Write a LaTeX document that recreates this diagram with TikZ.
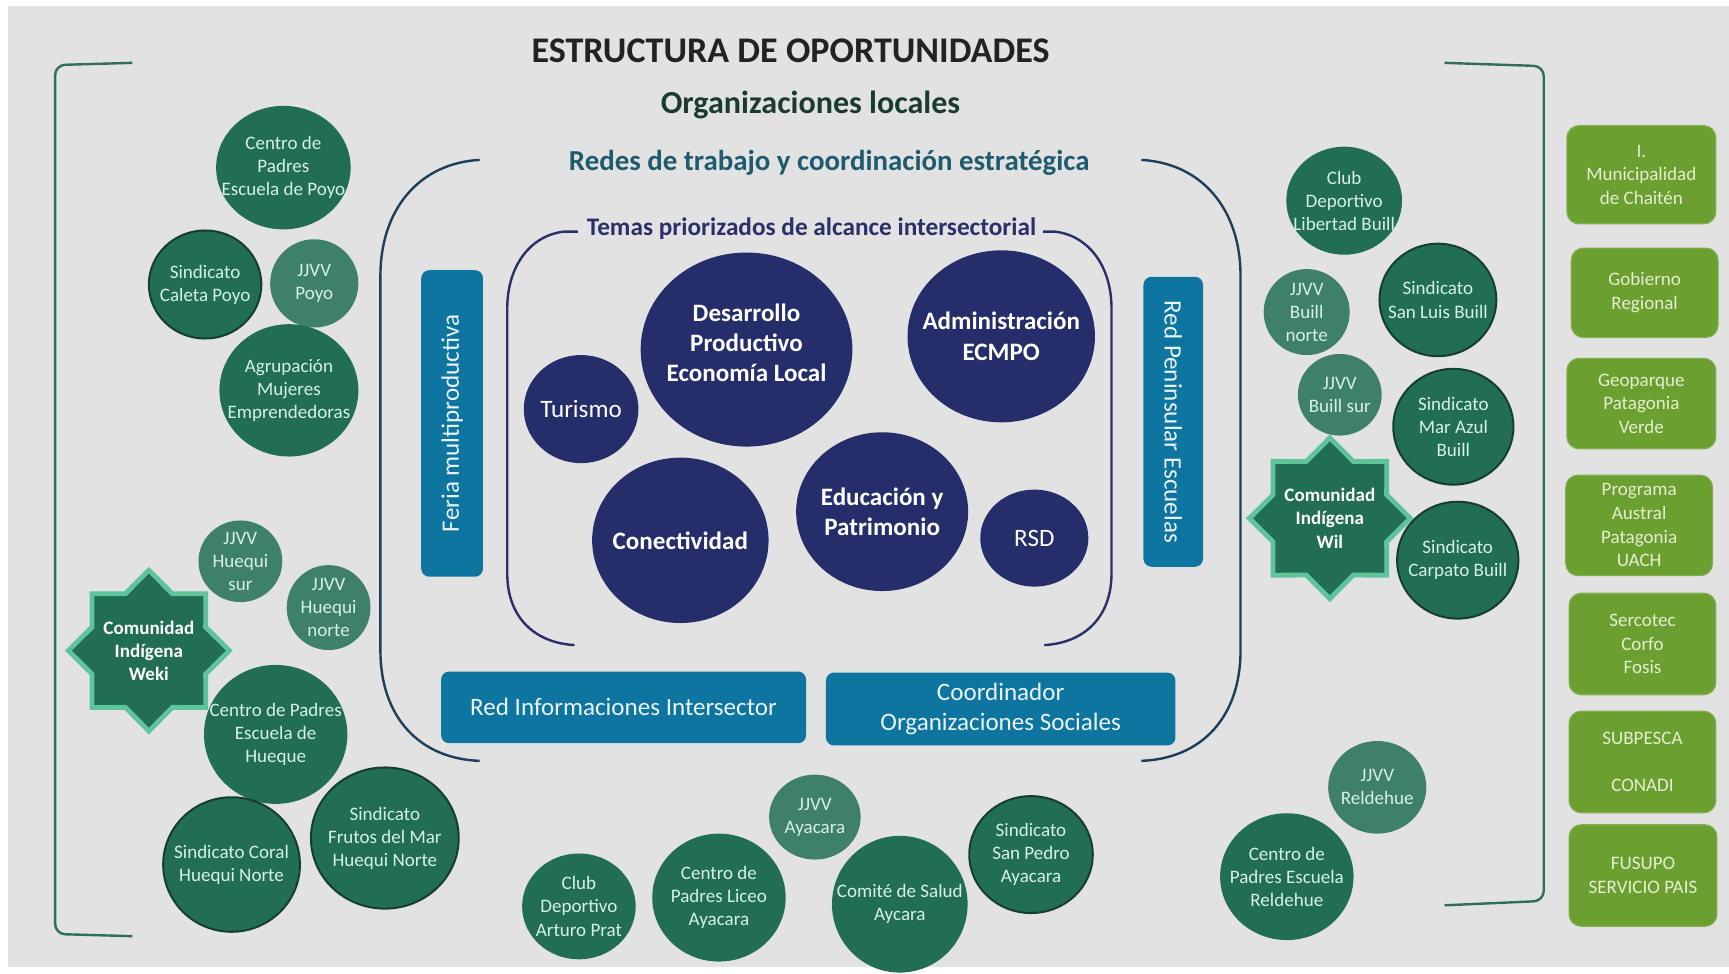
\documentclass[tikz,border=0pt]{standalone}
\usepackage{fontspec}
\setmainfont{Carlito}
\usetikzlibrary{shapes.geometric}
\definecolor{bg}{HTML}{E2E2E2}
\definecolor{dkgreen}{HTML}{216E55}
\definecolor{ltgreen}{HTML}{3F8069}
\definecolor{dkline}{HTML}{163D31}
\definecolor{mint}{HTML}{D6F2E6}
\definecolor{starb}{HTML}{5FC49B}
\definecolor{navy}{HTML}{252D6B}
\definecolor{bluebox}{HTML}{0E75A1}
\definecolor{bluetxt}{HTML}{EAF6FA}
\definecolor{olive}{HTML}{6B9F2F}
\definecolor{olivetxt}{HTML}{E6F0D2}
\definecolor{brgreen}{HTML}{2F6E5C}
\definecolor{redes}{HTML}{1E3F5C}
\definecolor{temas}{HTML}{2A3068}
\definecolor{titlec}{HTML}{222222}
\definecolor{orgc}{HTML}{1C3B30}
\definecolor{redesc}{HTML}{1F5B6E}
\begin{document}
\begin{tikzpicture}[x=0.55pt,y=-0.55pt,
  orgtxt/.style={align=center, text=mint, font=\fontsize{9.5}{11.5}\selectfont, inner sep=0pt},
  org/.style n args={3}{ellipse, fill=dkgreen, inner sep=0pt, minimum width=#1*0.55pt, minimum height=#2*0.55pt, label={[orgtxt]center:{#3}}},
  light/.style={fill=ltgreen},
  oline/.style={draw=dkline, line width=1pt},
  startxt/.style={align=center, text=white, font=\bfseries\fontsize{9.5}{11.5}\selectfont, inner sep=0pt},
  starnode/.style={star, star points=8, star point ratio=1.31, minimum size=146*0.55pt, inner sep=0pt, fill=dkgreen, draw=starb, line width=2.4pt, label={[startxt]center:{#1}}},
  navtxt/.style={align=center, text=white, font=\bfseries\fontsize{12.5}{15}\selectfont, inner sep=0pt},
  navtxtr/.style={align=center, text=white, font=\fontsize{12.5}{15}\selectfont, inner sep=0pt},
  topic/.style n args={3}{ellipse, fill=navy, inner sep=0pt, minimum width=#1*0.55pt, minimum height=#2*0.55pt, label={[navtxt]center:{#3}}},
  topicr/.style n args={3}{ellipse, fill=navy, inner sep=0pt, minimum width=#1*0.55pt, minimum height=#2*0.55pt, label={[navtxtr]center:{#3}}},
  bbox/.style 2 args={rectangle, rounded corners=4pt, fill=bluebox, text=bluetxt, align=center, inner sep=0pt, minimum width=#1*0.55pt, minimum height=#2*0.55pt, font=\fontsize{12.5}{15}\selectfont},
  obox/.style 2 args={rectangle, rounded corners=6pt, fill=olive, draw=olive!85!white, line width=0.6pt, text=olivetxt, align=center, inner sep=0pt, minimum width=#1*0.55pt, minimum height=#2*0.55pt, font=\fontsize{9.5}{11.8}\selectfont},
  gbr/.style={draw=brgreen, line width=1.2pt},
  rbr/.style={draw=redes, line width=1.2pt},
  tbr/.style={draw=temas, line width=1.2pt}
]
\useasboundingbox (0,0) rectangle (1568,883);
\fill[white] (0,0) rectangle (1568,883);
\fill[bg] (7,5) rectangle (1568,877);

% titles
\node[font=\bfseries\fontsize{18}{21}\selectfont, text=titlec] (title) at (717,46) {ESTRUCTURA DE OPORTUNIDADES};
\node[font=\bfseries\fontsize{16}{19}\selectfont, text=orgc] (orgs) at (735,95) {Organizaciones locales};
\node[font=\bfseries\fontsize{14.4}{17}\selectfont, text=redesc] (redest) at (752,148) {Redes de trabajo y coordinación estratégica};
\node[font=\bfseries\fontsize{12.6}{15}\selectfont, text=temas] (temast) at (736,207) {Temas priorizados de alcance intersectorial};

% outer green brackets
\coordinate (lbt) at (120,57);
\coordinate (lbb) at (120,849);
\coordinate (rbt) at (1310,57);
\coordinate (rbb) at (1310,821);
\draw[gbr, rounded corners=5pt] (lbt) -- (50,59) -- (50,847) -- (lbb);
\draw[gbr, rounded corners=5pt] (rbt) -- (1400,60) -- (1400,817) -- (rbb);

% redes bracket
\coordinate (rlt) at (435,145);
\coordinate (rlb) at (435,690);
\coordinate (rrt) at (1035,145);
\coordinate (rrb) at (1035,690);
\draw[rbr] (rlt) .. controls (380,148) and (345,190) .. (345,250) -- (345,590) .. controls (345,650) and (380,688) .. (rlb);
\draw[rbr] (rrt) .. controls (1090,148) and (1125,190) .. (1125,250) -- (1125,590) .. controls (1125,650) and (1090,688) .. (rrb);

% temas bracket
\coordinate (tlt) at (524,210);
\coordinate (tlb) at (521,585);
\coordinate (trt) at (946,210);
\coordinate (trb) at (947,585);
\draw[tbr] (tlt) -- (512,210) .. controls (482,213) and (460,240) .. (460,280) -- (460,520) .. controls (460,560) and (485,583) .. (tlb);
\draw[tbr] (trt) -- (956,210) .. controls (986,213) and (1008,240) .. (1008,280) -- (1008,520) .. controls (1008,560) and (983,583) .. (trb);

% side boxes
\node[bbox={278}{56}, rotate=90] (feria) at (410,384) {Feria multiproductiva};
\node[bbox={263}{54}, rotate=-90] (rpe) at (1064,382.5) {Red Peninsular Escuelas};
\node[bbox={331}{65}] (rii) at (565.5,641.5) {Red Informaciones Intersector};
\node[bbox={317}{66}] (cos) at (907.5,643) {Coordinador\\Organizaciones Sociales};

% topics
\node[ellipse, fill=navy, inner sep=0pt, minimum width=192*0.55pt, minimum height=176*0.55pt, label={[navtxt, yshift=3.5pt]center:{Desarrollo\\Productivo\\Economía Local}}] (dpel) at (677,317) {};
\node[topic={170}{156}{Administración\\ECMPO}] (aec) at (908,305) {};
\node[topicr={104}{98}{Turismo}] (tur) at (527,371) {};
\node[topic={160}{150}{Conectividad}] (con) at (617,490) {};
\node[topic={156}{144}{Educación y\\Patrimonio}] (edu) at (800,464) {};
\node[topicr={98}{88}{RSD}] (rsd) at (938,488) {};

% left organisations
\node[org={122}{112}{Centro de\\Padres\\Escuela de Poyo}] (cpp) at (257,152) {};
\node[org={102}{98}{Sindicato\\Caleta Poyo}, oline] (scp) at (186,258) {};
\node[org={80}{80}{JJVV\\Poyo}, light] (jpoyo) at (285,257) {};
\node[org={126}{120}{Agrupación\\Mujeres\\Emprendedoras}] (amem) at (262,354) {};
\node[org={76}{74}{JJVV\\Huequi\\sur}, light] (jhs) at (218,509) {};
\node[org={76}{77}{JJVV\\Huequi\\norte}, light] (jhn) at (298,551) {};
\node[starnode={Comunidad\\Indígena\\Weki}] (weki) at (135,590) {};
\node[org={130}{126}{Centro de Padres\\Escuela de\\Hueque}] (cph) at (250,666) {};
\node[org={124}{122}{Sindicato Coral\\Huequi Norte}, oline] (sch) at (210,784) {};
\node[org={134}{128}{Sindicato\\Frutos del Mar\\Huequi Norte}, oline] (sfm) at (349,760) {};

% bottom organisations
\node[org={103}{96}{Club\\Deportivo\\Arturo Prat}] (cdap) at (525,822) {};
\node[org={121}{116}{Centro de\\Padres Liceo\\Ayacara}] (cpla) at (652,814) {};
\node[org={83}{77}{JJVV\\Ayacara}, light] (jay) at (739,741) {};
\node[org={123}{124}{Comité de Salud\\Aycara}] (csa) at (816,820) {};
\node[org={112}{106}{Sindicato\\San Pedro\\Ayacara}, oline] (sspa) at (935,775) {};

% right organisations
\node[org={105}{98}{Club\\Deportivo\\Libertad Buill}] (cdlb) at (1219,182) {};
\node[org={78}{78}{JJVV\\Buill\\norte}, light] (jbn) at (1185,283) {};
\node[org={106}{102}{Sindicato\\San Luis Buill}, oline] (ssl) at (1304,272) {};
\node[org={76}{74}{JJVV\\Buill sur}, light] (jbs) at (1215,358) {};
\node[org={109}{105}{Sindicato\\Mar Azul\\Buill}, oline] (sma) at (1318,387) {};
\node[starnode={Comunidad\\Indígena\\Wil}] (wil) at (1206,470) {};
\node[org={110}{106}{Sindicato\\Carpato Buill}, oline] (scb) at (1322,508) {};
\node[org={89}{84}{JJVV\\Reldehue}, light] (jrel) at (1249,714) {};
\node[org={121}{115}{Centro de\\Padres Escuela\\Reldehue}] (cper) at (1167,795) {};

% institutions
\node[obox={135}{89}] (muni) at (1488.5,158.5) {I.\\Municipalidad\\de Chaitén};
\node[obox={133}{81}] (gore) at (1491.5,265.5) {Gobierno\\Regional};
\node[obox={135}{82}] (geo) at (1488.5,366) {Geoparque\\Patagonia\\Verde};
\node[obox={133}{91}] (prog) at (1486.5,476.5) {Programa\\Austral\\Patagonia\\UACH};
\node[obox={133}{92}] (serc) at (1489.5,584) {Sercotec\\Corfo\\Fosis};
\node[obox={133}{92}] (subp) at (1489.5,691) {SUBPESCA\\\mbox{}\\CONADI};
\node[obox={134}{92}] (fusu) at (1490,794) {FUSUPO\\SERVICIO PAIS};
\end{tikzpicture}
\end{document}
